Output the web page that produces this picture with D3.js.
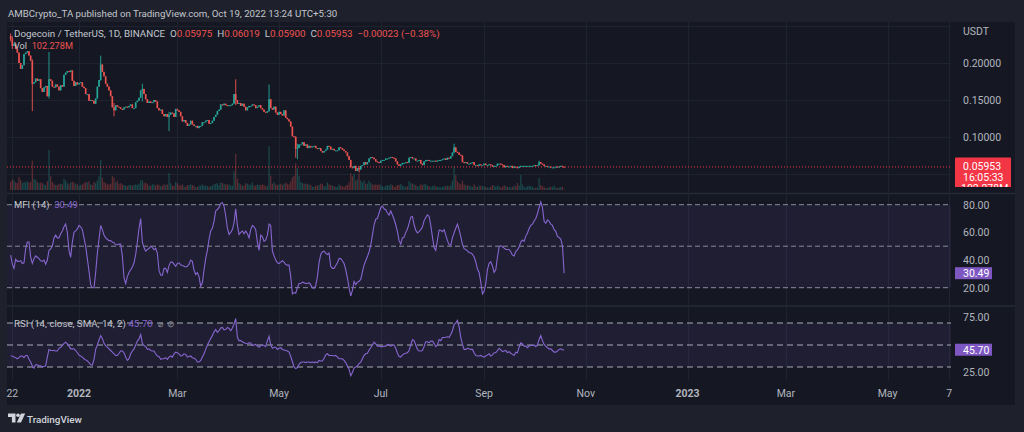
<!DOCTYPE html>
<html><head><meta charset="utf-8">
<script src="https://cdn.jsdelivr.net/npm/d3@7"></script>
<style>
html,body{margin:0;padding:0;background:#1e212b;overflow:hidden;}
svg{display:block;font-family:Roboto,"Noto Sans",sans-serif;}
</style></head><body>
<svg id="c" width="1024" height="432"></svg>
<script>
// ---------------- DATA ----------------
const startDate = "2021-11-21";           // first daily candle
const firstOpen = 0.2365;                  // open of the first visible candle
// daily closes (USDT), Nov 21 2021 -> Oct 19 2022 (open of each candle = prior close)
const closes = [
 .232,.223,.226,.219,.214,.200,.192,.197,.212,.214,
 .216,.210,.203,.172,.174,.179,.176,.178,.166,.161,
 .167,.169,.155,.178,.176,.168,.167,.171,.168,.163,
 .170,.168,.184,.187,.189,.188,.190,.176,.169,.174,.171,
 .173,.174,.168,.166,.158,.158,.149,.150,.149,.145,
 .152,.168,.177,.198,.188,.182,.172,.168,.163,.155,
 .140,.136,.143,.141,.140,.138,.137,.140,.141,.140,.142,
 .144,.139,.139,.147,.149,.153,.163,.165,.158,.151,
 .146,.148,.146,.147,.150,.148,.139,.136,.137,.131,
 .128,.131,.127,.130,.133,.132,.127,.138,
 .136,.134,.128,.121,.123,.119,.115,.117,.122,.117,
 .115,.115,.112,.115,.115,.120,.120,.122,.123,.118,
 .119,.122,.127,.130,.135,.137,.144,.143,.145,.143,.142,
 .143,.143,.145,.158,.150,.145,.146,.142,.145,.141,
 .136,.140,.142,.142,.144,.143,.139,.141,.143,.139,
 .137,.134,.133,.135,.151,.139,.137,.141,.133,.130,
 .134,.131,.129,.136,.126,.124,.121,.114,.101,.100,
 .084,.085,.090,.090,.093,.088,.090,.085,.088,.086,
 .087,.088,.085,.084,.085,.081,.079,.081,.083,.088,.087,
 .083,.084,.082,.082,.082,.086,.085,.083,.081,.079,
 .074,.069,.059,.058,.061,.054,.058,.056,.061,.062,
 .066,.063,.066,.071,.073,.072,.070,.067,.066,.065,
 .068,.069,.069,.071,.071,.072,.073,.072,.071,.067,
 .063,.061,.063,.065,.065,.066,.065,.072,.073,.071,
 .071,.068,.068,.069,.064,.062,.067,.069,.069,.068,.068,
 .068,.068,.067,.068,.069,.069,.070,.071,.069,.072,
 .071,.074,.079,.086,.080,.079,.076,.075,.066,.065,
 .066,.064,.064,.065,.066,.062,.062,.061,.063,.062,.062,
 .064,.062,.062,.063,.062,.060,.061,.061,.064,.064,
 .063,.062,.059,.061,.060,.060,.061,.058,.060,.059,
 .058,.060,.061,.061,.061,.061,.061,.061,.061,.061,
 .062,.061,.062,.066,.064,.063,.061,.061,.060,.060,
 .059,.059,.059,.060,.059,.060,.061,.05975,.05953
];
// days with notable wicks (index into closes), their highs and lows
const wickDay  = [0,    1,    13,   23,   54,   62,   79,   95,   135,  155,  171,  172,  209,  266,  317,  332];
const wickHigh = [.240, .236, .205, .215, .210, .146, .172, .134, .178, .171, .101, .091, .061, .091, .068, .06019];
const wickLow  = [.229, .219, .135, .152, .176, .128, .148, .108, .143, .134, .072, .070, .052, .078, .061, .05900];
// daily volume, millions of DOGE
const volumes = [
 1300,1700,1500,1200,1100,2100,1600,1100,1300,1200,
 1400,1200,1300,4700,1800,1600,1300,1100,1200,1100,
 900,800,1400,6400,2200,1300,1000,800,800,1000,
 1000,900,1800,1500,1100,900,1200,1300,1200,1000,900,
 700,800,900,1100,1300,1200,1400,900,800,1300,
 1100,1500,2200,4800,2000,1300,1100,900,900,1000,
 2200,2000,1200,1500,1000,1100,900,800,700,600,800,
 800,700,800,900,800,1000,1500,1600,1100,1200,
 1000,700,700,900,900,700,900,800,600,700,
 900,800,900,2700,1100,700,700,1300,
 1100,800,700,900,600,500,800,800,900,800,
 700,500,500,700,700,900,700,700,600,500,
 600,700,900,1000,1100,800,1200,1100,1000,900,900,
 900,700,700,3000,5800,1800,1100,900,700,700,
 1100,1000,900,800,1200,700,700,900,800,800,
 900,800,600,700,7000,2300,1000,1200,900,800,
 900,1000,800,1000,1200,1000,900,1400,2000,2300,
 4300,3500,2300,1300,1100,1000,1000,1000,900,800,
 500,500,700,700,800,1000,1000,600,600,1200,900,
 800,700,600,500,500,900,700,600,500,700,
 800,1200,2700,2200,2600,1500,1700,2600,1500,1200,
 1500,1000,1000,1500,1100,900,800,900,800,900,
 800,600,500,700,800,700,900,800,500,600,
 800,800,1000,700,600,500,600,1400,1100,1000,
 900,800,600,600,900,800,1000,900,700,600,500,
 600,700,600,500,500,400,500,600,600,700,
 600,800,1500,3800,2400,1400,1100,900,1500,900,
 700,800,700,600,500,900,600,500,700,700,600,
 600,500,400,400,500,800,700,500,700,600,
 400,500,800,600,500,500,400,500,700,600,
 1100,700,2400,900,500,400,600,700,600,500,
 300,400,400,1900,800,600,500,300,300,500,
 500,500,700,400,300,400,500,500,102.278
];
// Money Flow Index (14)
const mfi = [
 43.5,37,34,40.5,39,39,39.5,37.5,38,48,
 53,53,42,37.5,41,43,42,41,39.5,39,
 40,37,40,47,48,50,56,58,56,56,
 59,61,64,66,60,47,42,53,60,61,62.5,
 65,64,62,56,50,41,32,22,20,20,
 31,45,55,65,62,58,56,55,54,54,
 53,52.5,51,51,51.5,51.5,43,27,23,28,31,
 33,35,38,44,53,63,70,53,49,46.5,
 47.5,48.5,50,49,47.5,48.5,45,32.5,29,29,
 34,34,31,36,38.5,38.5,37,35.5,
 37.5,38,36.5,36,35.5,35,35.5,37,40,39,
 32.5,29.5,31,28,21,23.5,33,41,47,55,
 61,63,68,75.5,76.5,78,81,81.5,79,72,63,
 58.5,60,62,67,77,65,58.5,60,61,59,
 61,59,56,62,65,64,62,53,47,58,
 57,53.5,54.5,58,66,65,46.5,43,40,38,
 37.5,38.5,39.5,38.5,36.8,36.3,36.4,28,15.5,16.5,
 16,20,23,23,24,23.5,23,23,23.6,22,
 20,19.6,21.5,28,38,44,46,46.5,45,44,45,
 35.5,34,34,36,38,41,41,39.5,37.5,33,
 27,20,14,18,24.5,22.2,24,24.6,26,31.5,
 36.5,39.5,42.5,46,50.8,58,65.5,69.5,70,74,
 78,79,77,76.4,74,72.5,75.5,72.5,69.5,65.5,
 60.5,54,51.5,56,56.6,60,62.4,66.5,71,71.5,
 65.5,61.6,59.6,60.5,62,63.8,68.5,70.8,72.6,71.5,65,
 56.7,49,47,54.5,61.6,61.5,60.5,62,58,54,
 51,50.6,56,59.6,63,66,62,57,51.4,48.2,
 47.6,46.6,45.3,45.3,44.1,42.4,38.6,33.5,31,24,15.5,
 17.4,23,33,37.6,38.8,35.7,31.1,33,42,49.5,
 50.4,49.6,48.6,47.6,47.6,47.6,46,43.5,42.9,46.3,
 47.4,49.5,53,54.4,53.5,57.3,59.5,62.8,65,66,
 68.2,70,73.6,78,82,78,68,66.6,69,68,
 66,65,62,60.7,57,56.4,55,50,30.49
];
// RSI (14, close)
const rsi = [
 40,40,39,38.5,37.5,38.5,40,40,38.5,40.5,
 40.5,37,34.5,31,29,32,32,31,31,30,
 30.5,31,39,46,45,45,45,44.5,44.5,47,
 48,49.5,51.5,52.5,51,49,46.5,46.5,46.5,45,43,
 40.8,40,39,37.5,36.5,35.5,34,32,31.8,37,
 46,50,54.5,58.5,56,51.5,49.5,48,46.5,45,
 43.5,42,40.5,40.5,42.5,44.5,44.5,43,39,36,37.5,
 42,44.5,46.5,50,53.5,55.5,59.5,51.5,49.5,48.5,
 46,46.5,45,44.5,44.5,42,40,39.5,37,37.5,
 37.5,38.5,37,39,40,39,42,43.5,
 43,42,40,40.5,42,41.5,39,39.5,40,38.5,
 38,37,34.5,34.5,36,39,42,46,50,53,
 56,58.5,62,64,61.5,63,65.5,66,63.8,64,66,
 65,63,65.5,69,74,57,54,54,53,52,
 51.5,51,52,51.8,49.5,50,50.5,49,48,49.5,
 50,49.5,48.5,54,58,50,47,48,48,46,
 47,47.5,46,45.5,45,44.5,43.5,39.5,34.8,30,
 28.5,29.5,32.5,34,34.5,34.5,34,34.5,34.5,34,
 34.5,34,34.5,34,36,35.5,35.5,38,41,42,40.5,
 40.5,40.5,40,40.5,39,37.5,37.5,37.5,36,34,
 31,28,22,25,29,30,31,33,34.5,37.5,
 40.5,42,42.5,45.5,47.5,50,52.5,51,49,49,
 48.5,48.5,49,49,50.5,50,49,50,50,47,
 42.5,39.5,39,41,42,42.5,43,45,50,55,
 54,50,46,44.5,44.5,45,48.5,53,53,52,53.5,
 53.5,51.5,48.5,50,55,54,56.8,56.8,57,57.5,
 57,59.5,63,68.5,70,72.4,66.5,57,50.5,46,
 46,47,46.5,46,46,43,40.5,40,40,40.5,39.5,
 39,40,41,42,40,41,43,43,45,47,
 45.5,44,44.5,45,43,44,42.5,41.5,40.5,43.5,
 43,48,52,51,49,49,47.5,49,49.5,49.5,
 50,48.5,50,55,58.5,54,50.5,49,47.5,46.5,
 46.5,45,43.5,43.5,44.5,46,46.5,45.5,45.70
];
const priceTicks = [0.20, 0.15, 0.10];
const priceGrid = [0.25, 0.20, 0.15, 0.10, 0.05];
const mfiTicks = [80, 60, 40, 20];
const mfiLevels = [80, 50, 20];
const rsiTicks = [75, 50, 25];
const rsiLevels = [70, 50, 30];
const timeTickDates = ["2021-11-22","2022-01-01","2022-03-01","2022-05-01","2022-07-01","2022-09-01","2022-11-01","2023-01-01","2023-03-01","2023-05-01","2023-06-07"];
const timeTickLabels = ["22","2022","Mar","May","Jul","Sep","Nov","2023","Mar","May","7"];
const lastOHLC = {o:"0.05975", h:"0.06019", l:"0.05900", c:"0.05953", chg:"\u22120.00023 (\u22120.38%)"};
const lastPrice = 0.05953, countdown = "16:05:33", lastVolLabel = "102.278M";
const lastMfi = "30.49", lastRsi = "45.70";

// ---------------- LAYOUT ----------------
const W = 1024, H = 432;
const L = 7, R = 951, AX = 1015;
const T = 22, PB = 192, MT = 194, MB = 305, RT = 307, RB = 380, CB = 405;
const UP = "#26a69a", DOWN = "#ef5350", PURPLE = "#7e57c2", TXT = "#b2b5be";

const svg = d3.select("#c");
const parse = d3.utcParse("%Y-%m-%d");
const x = d3.scaleUtc().domain([parse("2022-01-01"), parse("2023-01-01")]).range([79, 687.5]);
const yP = d3.scaleLinear().domain([0.10, 0.20]).range([137, 63]);
const yV = d3.scaleLinear().domain([0, 8000]).range([190, 140]);
const yM = d3.scaleLinear().domain([20, 80]).range([287.7, 204.7]);
const yR = d3.scaleLinear().domain([30, 70]).range([367, 323]);

const dates = closes.map((_, i) => d3.utcDay.offset(parse(startDate), i));
const opens = closes.map((c, i) => i === 0 ? firstOpen : closes[i - 1]);
const highs = closes.map((c, i) => Math.max(c, opens[i]));
const lows = closes.map((c, i) => Math.min(c, opens[i]));
wickDay.forEach((d, k) => { highs[d] = Math.max(highs[d], wickHigh[k]); lows[d] = Math.min(lows[d], wickLow[k]); });
const candles = closes.map((c, i) => ({d: dates[i], o: opens[i], h: highs[i], l: lows[i], c, v: volumes[i], up: c >= opens[i]}));

// backgrounds
svg.append("rect").attr("width", W).attr("height", H).attr("fill", "#1e212b");
svg.append("rect").attr("x", L).attr("y", T).attr("width", AX - L).attr("height", CB - T).attr("fill", "#151823");

const defs = svg.append("defs");
function clip(id, y0, y1) {
  defs.append("clipPath").attr("id", id).append("rect").attr("x", L).attr("y", y0).attr("width", R - L).attr("height", y1 - y0);
}
clip("cp", T, PB); clip("cm", MT, MB); clip("cr", RT, RB);

// separators
[193.5, 306].forEach(yy => svg.append("line").attr("x1", L).attr("x2", AX).attr("y1", yy).attr("y2", yy).attr("stroke", "#262a35").attr("stroke-width", 1.5));

// vertical grid
const tickDates = timeTickDates.map(parse);
const grid = svg.append("g").attr("stroke", "#1f2330").attr("stroke-width", 1);
tickDates.forEach(d => {
  const xx = Math.round(x(d)) + 0.5;
  if (xx > L && xx < R) [[T, PB], [MT, MB], [RT, RB]].forEach(([a, b]) => grid.append("line").attr("x1", xx).attr("x2", xx).attr("y1", a).attr("y2", b));
});
priceGrid.forEach(p => { const yy = Math.round(yP(p)) + 0.5; if (yy > T && yy < PB) grid.append("line").attr("x1", L).attr("x2", R).attr("y1", yy).attr("y2", yy); });

// ---------------- PRICE PANE ----------------
const gp = svg.append("g").attr("clip-path", "url(#cp)");
gp.selectAll("rect.vol").data(candles).join("rect").attr("class", "vol")
  .attr("x", d => x(d.d) - 0.6).attr("width", 1.2)
  .attr("y", d => yV(d.v)).attr("height", d => yV(0) - yV(d.v))
  .attr("fill", d => d.up ? "rgba(38,166,154,0.35)" : "rgba(239,83,80,0.35)");
gp.append("line").attr("x1", L).attr("x2", R).attr("y1", yP(lastPrice)).attr("y2", yP(lastPrice))
  .attr("stroke", "#f23645").attr("stroke-width", 1).attr("stroke-dasharray", "1,2");
gp.selectAll("line.wick").data(candles).join("line").attr("class", "wick")
  .attr("x1", d => x(d.d)).attr("x2", d => x(d.d)).attr("y1", d => yP(d.h)).attr("y2", d => yP(d.l))
  .attr("stroke", d => d.up ? UP : DOWN).attr("stroke-width", 0.9);
gp.selectAll("rect.body").data(candles).join("rect").attr("class", "body")
  .attr("x", d => x(d.d) - 0.8).attr("width", 1.6)
  .attr("y", d => yP(Math.max(d.o, d.c))).attr("height", d => Math.max(1, Math.abs(yP(d.o) - yP(d.c))))
  .attr("fill", d => d.up ? UP : DOWN);

// price axis
const fs = 10.5;
svg.append("text").attr("x", 963).attr("y", 35).attr("font-size", fs).attr("fill", TXT).text("USDT");
svg.selectAll("text.pt").data(priceTicks).join("text").attr("class", "pt")
  .attr("x", 963).attr("y", d => yP(d) + 3.8).attr("font-size", fs).attr("fill", TXT).text(d => d3.format(".5f")(d));
const pbox = svg.append("g");
pbox.append("clipPath").attr("id", "pbc").append("rect").attr("x", 955).attr("y", 157).attr("width", 60).attr("height", 30);
const pbg = pbox.append("g").attr("clip-path", "url(#pbc)");
pbg.append("rect").attr("x", 955).attr("y", 157.5).attr("width", 56).attr("height", 30).attr("rx", 1).attr("fill", "#f23645");
pbg.append("text").attr("x", 963).attr("y", 169.5).attr("font-size", fs).attr("fill", "#fff").text(d3.format(".5f")(lastPrice));
pbg.append("text").attr("x", 963).attr("y", 180.5).attr("font-size", fs).attr("fill", "#fff").text(countdown);
pbg.append("text").attr("x", 961).attr("y", 191.5).attr("font-size", fs).attr("fill", "#fff").text(lastVolLabel);

// ---------------- MFI PANE ----------------
svg.append("rect").attr("x", L).attr("width", R - L).attr("y", yM(80)).attr("height", yM(20) - yM(80)).attr("fill", "rgba(126,87,194,0.10)");
svg.selectAll("line.ml").data(mfiLevels).join("line").attr("class", "ml")
  .attr("x1", L).attr("x2", R).attr("y1", d => yM(d)).attr("y2", d => yM(d))
  .attr("stroke", "#8b8e99").attr("stroke-width", 1).attr("stroke-dasharray", "5,3");
const mLine = d3.line().x((d, i) => x(dates[i])).y(d => yM(d));
svg.append("path").attr("clip-path", "url(#cm)").attr("d", mLine(mfi)).attr("fill", "none").attr("stroke", "#8766cf").attr("stroke-width", 1.1);
svg.selectAll("text.mt").data(mfiTicks).join("text").attr("class", "mt")
  .attr("x", 963).attr("y", d => yM(d) + 3.8).attr("font-size", fs).attr("fill", TXT).text(d => d3.format(".2f")(d));
svg.append("rect").attr("x", 955).attr("y", yM(+lastMfi) - 6).attr("width", 37).attr("height", 12).attr("fill", PURPLE);
svg.append("text").attr("x", 963).attr("y", yM(+lastMfi) + 3.8).attr("font-size", fs).attr("fill", "#fff").text(lastMfi);

// ---------------- RSI PANE ----------------
svg.append("rect").attr("x", L).attr("width", R - L).attr("y", yR(70)).attr("height", yR(30) - yR(70)).attr("fill", "rgba(126,87,194,0.10)");
svg.selectAll("line.rl").data(rsiLevels).join("line").attr("class", "rl")
  .attr("x1", L).attr("x2", R).attr("y1", d => yR(d)).attr("y2", d => yR(d))
  .attr("stroke", "#a9acb6").attr("stroke-width", 1).attr("stroke-dasharray", "6,4");
const rLine = d3.line().x((d, i) => x(dates[i])).y(d => yR(d));
svg.append("path").attr("clip-path", "url(#cr)").attr("d", rLine(rsi)).attr("fill", "none").attr("stroke", "#8766cf").attr("stroke-width", 1.1);
// tick labels hidden behind the last-value badge are not drawn (as on the reference)
svg.selectAll("text.rt").data(rsiTicks.filter(d => Math.abs(yR(d) - yR(+lastRsi)) > 11)).join("text").attr("class", "rt")
  .attr("x", 963).attr("y", d => yR(d) + 3.8).attr("font-size", fs).attr("fill", TXT).text(d => d3.format(".2f")(d));
svg.append("rect").attr("x", 955).attr("y", yR(+lastRsi) - 6).attr("width", 37).attr("height", 12).attr("fill", PURPLE);
svg.append("text").attr("x", 963).attr("y", yR(+lastRsi) + 3.8).attr("font-size", fs).attr("fill", "#fff").text(lastRsi);

// ---------------- TIME AXIS ----------------
svg.selectAll("text.tt").data(timeTickLabels).join("text").attr("class", "tt")
  .attr("x", (d, i) => x(tickDates[i])).attr("y", 397).attr("text-anchor", "middle")
  .attr("font-size", fs).attr("font-weight", d => /^\d{4}$/.test(d) ? 700 : 400).attr("fill", TXT).text(d => d);

// ---------------- TEXTS ----------------
function fit(sel, target) {
  const w = sel.node().getComputedTextLength();
  if (w > 0) sel.attr("font-size", parseFloat(sel.attr("font-size")) * target / w);
}
const h1 = svg.append("text").attr("x", 8).attr("y", 16.5).attr("font-size", 11).attr("fill", "#c3c6ce")
  .text("AMBCrypto_TA published on TradingView.com, Oct 19, 2022 13:24 UTC+5:30");
fit(h1, 330);
const h2 = svg.append("text").attr("x", 14).attr("y", 37).attr("font-size", 11).attr("fill", "#c3c6ce");
h2.append("tspan").text("Dogecoin / TetherUS, 1D, BINANCE\u00a0\u00a0O");
h2.append("tspan").attr("fill", DOWN).text(lastOHLC.o);
h2.append("tspan").text("\u00a0\u00a0H");
h2.append("tspan").attr("fill", DOWN).text(lastOHLC.h);
h2.append("tspan").text("\u00a0\u00a0L");
h2.append("tspan").attr("fill", DOWN).text(lastOHLC.l);
h2.append("tspan").text("\u00a0\u00a0C");
h2.append("tspan").attr("fill", DOWN).text(lastOHLC.c + "\u00a0\u00a0" + lastOHLC.chg);
fit(h2, 426);
const h3 = svg.append("text").attr("x", 14).attr("y", 48.5).attr("font-size", 11).attr("fill", "#c3c6ce");
h3.append("tspan").text("Vol\u00a0\u00a0");
h3.append("tspan").attr("fill", DOWN).text(lastVolLabel);
fit(h3, 59);
const mt = svg.append("text").attr("x", 14).attr("y", 208).attr("font-size", 11).attr("fill", "#c3c6ce");
mt.append("tspan").text("MFI (14)\u00a0\u00a0");
mt.append("tspan").attr("fill", "#8766cf").text(lastMfi);
fit(mt, 64);
const rt = svg.append("text").attr("x", 14).attr("y", 327).attr("font-size", 11).attr("fill", "#c3c6ce");
rt.append("tspan").text("RSI (14, close, SMA, 14, 2)\u00a0");
rt.append("tspan").attr("fill", "#8766cf").text(lastRsi);
fit(rt, 139);
svg.append("text").attr("x", 158).attr("y", 327).attr("font-size", 9).attr("fill", "#8b8e99").text("\u2300\u00a0\u00a0\u2298");

// footer logo
const logo = svg.append("g").attr("fill", "#d1d4dc");
logo.append("path").attr("d", "M8,413.5 h7.5 v9 h-3.6 v-5.4 h-3.9 z");
logo.append("circle").attr("cx", 18).attr("cy", 415.3).attr("r", 1.8);
logo.append("path").attr("d", "M21,413.5 h4.2 l-4.2,9 h-4.2 z");
const ft = svg.append("text").attr("x", 27).attr("y", 422.5).attr("font-size", 12).attr("font-weight", 500).attr("fill", "#d1d4dc").text("TradingView");
fit(ft, 55);
</script>
</body></html>
